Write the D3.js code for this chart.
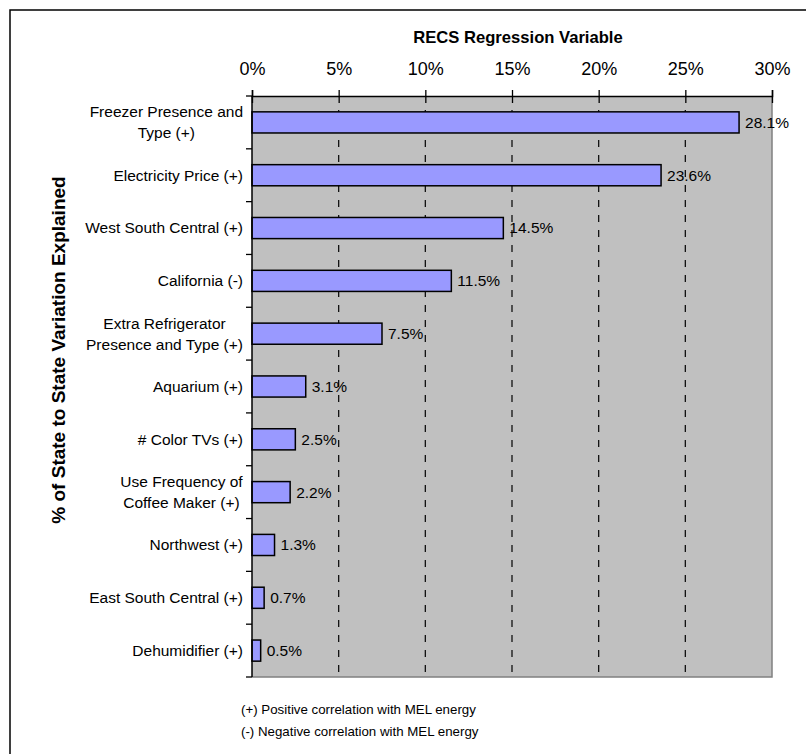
<!DOCTYPE html>
<html><head><meta charset="utf-8">
<script src="https://cdn.jsdelivr.net/npm/d3@7"></script>
<style>body{margin:0;background:#fff}svg{display:block;font-family:"Liberation Sans",Arial,sans-serif}</style>
</head><body>
<svg id="c" width="806" height="754"></svg>
<script>
const categories = [
  ["Freezer Presence and","Type (+)"],
  ["Electricity Price (+)"],
  ["West South Central (+)"],
  ["California (-)"],
  ["Extra Refrigerator","Presence and Type (+)"],
  ["Aquarium (+)"],
  ["# Color TVs (+)"],
  ["Use Frequency of","Coffee Maker (+)"],
  ["Northwest (+)"],
  ["East South Central (+)"],
  ["Dehumidifier (+)"]
];
const values = [28.1, 23.6, 14.5, 11.5, 7.5, 3.1, 2.5, 2.2, 1.3, 0.7, 0.5];
const xTicks = [0, 5, 10, 15, 20, 25, 30];
const xTitle = "RECS Regression Variable";
const yTitle = "% of State to State Variation Explained";
const notes = ["(+) Positive correlation with MEL energy", "(-) Negative correlation with MEL energy"];

const svg = d3.select("#c");
const L = 252, R = 772, T = 96, B = 677;
const ids = categories.map((c,i)=>i);
const x = d3.scaleLinear().domain([0,30]).range([L,R]);
const y = d3.scaleBand().domain(ids).range([T,B]).paddingInner(0.6).paddingOuter(0.3);
const yb = d3.scaleBand().domain(ids).range([T,B]);

// outer frame
svg.append("rect").attr("x",10).attr("y",10).attr("width",900).attr("height",900)
  .attr("fill","none").attr("stroke","#000").attr("stroke-width",1.5);

// plot background
svg.append("rect").attr("x",L).attr("y",T).attr("width",R-L).attr("height",B-T)
  .attr("fill","#C0C0C0").attr("stroke","none");
// right & bottom border
svg.append("path").attr("d",`M${R},${T}V${B}H${L}`).attr("fill","none")
  .attr("stroke","#808080").attr("stroke-width",1.5);

// grid
svg.append("g").selectAll("line").data(xTicks.filter(t=>t>0 && t<30)).join("line")
  .attr("x1",d=>x(d)).attr("x2",d=>x(d)).attr("y1",T+14).attr("y2",B)
  .attr("stroke","#111").attr("stroke-width",1.3).attr("stroke-dasharray","7,8");

// bars
svg.append("g").selectAll("rect").data(values).join("rect")
  .attr("x",x(0)).attr("y",(d,i)=>y(i)).attr("width",d=>x(d)-x(0)).attr("height",y.bandwidth())
  .attr("fill","#9999FF").attr("stroke","#000").attr("stroke-width",1.5);

// top axis
const xAxis = d3.axisTop(x).tickValues(xTicks).tickFormat(d=>d+"%").tickSize(6).tickPadding(15);
const gx = svg.append("g").attr("transform",`translate(0,${T})`).call(xAxis);
gx.select(".domain").attr("stroke","#000").attr("stroke-width",1.5);
gx.selectAll(".tick line").attr("stroke","#000").attr("stroke-width",1.3).attr("y1",7);
gx.selectAll(".tick text").attr("font-size",18).attr("fill","#000").attr("font-family","Liberation Sans, Arial");

// left axis line and ticks at band boundaries
svg.append("line").attr("x1",L).attr("x2",L).attr("y1",T).attr("y2",B).attr("stroke","#000").attr("stroke-width",1.5);
svg.append("g").selectAll("line").data(ids.concat([ids.length])).join("line")
  .attr("x1",L-6).attr("x2",L).attr("y1",d=>T+d*yb.step()).attr("y2",d=>T+d*yb.step())
  .attr("stroke","#000").attr("stroke-width",1.3);

// category labels
const lineH = 21;
const cg = svg.append("g").attr("font-size",15.5).attr("fill","#000");
categories.forEach((lines,i)=>{
  const cy = y(i) + y.bandwidth()/2;
  const t = cg.append("text").attr("text-anchor","middle");
  lines.forEach((ln,j)=>{
    t.append("tspan").attr("x",0).attr("y",cy + (j-(lines.length-1)/2)*lineH).attr("dy","0.35em").text(ln);
  });
  const w = t.node().getBBox().width;
  t.selectAll("tspan").attr("x", L - 9 - w/2);
});

// data labels
svg.append("g").selectAll("text").data(values).join("text")
  .attr("x",d=>x(d)+6).attr("y",(d,i)=>y(i)+y.bandwidth()/2).attr("dy","0.35em")
  .attr("font-size",15.5).attr("fill","#000").text(d=>d.toFixed(1)+"%");

// titles
svg.append("text").attr("x",(413+623)/2).attr("y",43).attr("text-anchor","middle")
  .attr("font-size",16.6).attr("font-weight","bold").text(xTitle);
svg.append("text").attr("transform","translate(65,350) rotate(-90)").attr("text-anchor","middle")
  .attr("font-size",19).attr("font-weight","bold").text(yTitle);

// notes
svg.append("g").selectAll("text").data(notes).join("text")
  .attr("x",241).attr("y",(d,i)=>714+i*22).attr("font-size",13.3).attr("fill","#000").text(d=>d);
</script>
</body></html>
